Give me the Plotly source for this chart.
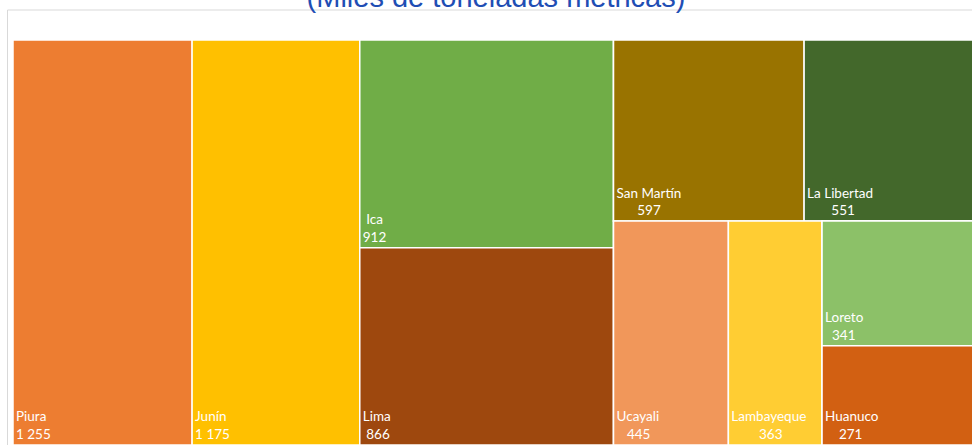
import plotly.graph_objects as go

# ---- data ----
regions = ["Piura", "Junín", "Ica", "Lima", "San Martín", "La Libertad",
           "Ucayali", "Lambayeque", "Loreto", "Huanuco"]
production = [1255, 1175, 912, 866, 597, 551, 445, 363, 341, 271]   # miles de t
value_labels = ["1 255", "1 175", "912", "866", "597", "551", "445", "363", "341", "271"]
colors = ["#ED7D31", "#FFC000", "#70AD47", "#9E480E", "#997300", "#43682B",
          "#F1975A", "#FFCD33", "#8CC168", "#D26012"]
title_text = "(Miles de toneladas métricas)"

FONT_SIZE = 13.5
NBSP = "\u00a0"


def text_w(s):
    """rough width estimate (em) of a string in Lato"""
    w = 0.0
    for ch in s:
        if ch in "ilíI|.,":
            w += 0.23
        elif ch in "tfrj":
            w += 0.34
        elif ch in " \u00a0":
            w += 0.193
        elif ch in "mM":
            w += 0.85
        elif ch.isdigit():
            w += 0.58
        elif ch.isupper():
            w += 0.6
        else:
            w += 0.52
    return w


def centered(label, value):
    """Excel centres the two text lines on each other"""
    wl, wv = text_w(label), text_w(value)
    n = int(abs(wl - wv) / 2 / 0.22)
    if wl >= wv:
        return label + "<br>" + NBSP * n + value
    return NBSP * n + label + "<br>" + value


ids, labels, parents, values, mcolors, templates = [], [], [], [], [], []


def add_group(gid, parent):
    ids.append(gid); labels.append(""); parents.append(parent)
    values.append(0); mcolors.append("#FFFFFF"); templates.append("")


def add_leaf(i, parent):
    ids.append(regions[i]); labels.append(regions[i]); parents.append(parent)
    values.append(production[i]); mcolors.append(colors[i])
    templates.append(centered(regions[i], value_labels[i]))


# hierarchy order reproduces the column / row arrangement (slice-dice packing)
add_group("root", "")
add_leaf(0, "root")
add_leaf(1, "root")
add_group("g_ica_lima", "root")
add_leaf(2, "g_ica_lima")
add_leaf(3, "g_ica_lima")
add_group("g_rest", "root")
add_group("g_top", "g_rest")
add_leaf(4, "g_top")
add_leaf(5, "g_top")
add_group("g_bottom", "g_rest")
add_leaf(6, "g_bottom")
add_leaf(7, "g_bottom")
add_group("g_lor_hua", "g_bottom")
add_leaf(8, "g_lor_hua")
add_leaf(9, "g_lor_hua")

fig = go.Figure(go.Treemap(
    ids=ids, labels=labels, parents=parents, values=values,
    branchvalues="remainder",
    sort=False,
    tiling=dict(packing="slice-dice", pad=0),
    marker=dict(colors=mcolors, line=dict(color="#FFFFFF", width=1.5),
                pad=dict(t=0, l=0, r=0, b=0), depthfade=False),
    pathbar=dict(visible=False),
    texttemplate=templates,
    textposition="bottom left",
    textfont=dict(family="Lato, Noto Sans, sans-serif", size=FONT_SIZE, color="#FFFFFF"),
    hoverinfo="skip",
))

# the original chart continues a little past the right edge of the picture
W, H = 980, 445
ML, MT = 13, 40
PW, PH = W - ML, H - MT

fig.update_layout(
    width=W, height=H,
    margin=dict(l=ML, r=0, t=MT, b=0),
    paper_bgcolor="#FFFFFF",
    plot_bgcolor="#FFFFFF",
    title=dict(text=title_text, x=496 / W, xref="container", xanchor="center",
               y=1 - 7 / H, yref="container", yanchor="bottom",
               font=dict(family="Liberation Sans, Arial, sans-serif", size=29, color="#1F4EB4")),
    shapes=[dict(type="rect", xref="paper", yref="paper",
                 x0=-5.5 / PW, x1=1.1, y0=-0.1, y1=1 + 30 / PH,
                 line=dict(color="#D9D9D9", width=1), fillcolor="rgba(0,0,0,0)",
                 layer="below")],
)

fig.write_html("out.html", config={"displayModeBar": False},
               post_script="document.body.style.margin='0';document.body.style.overflow='hidden';")
